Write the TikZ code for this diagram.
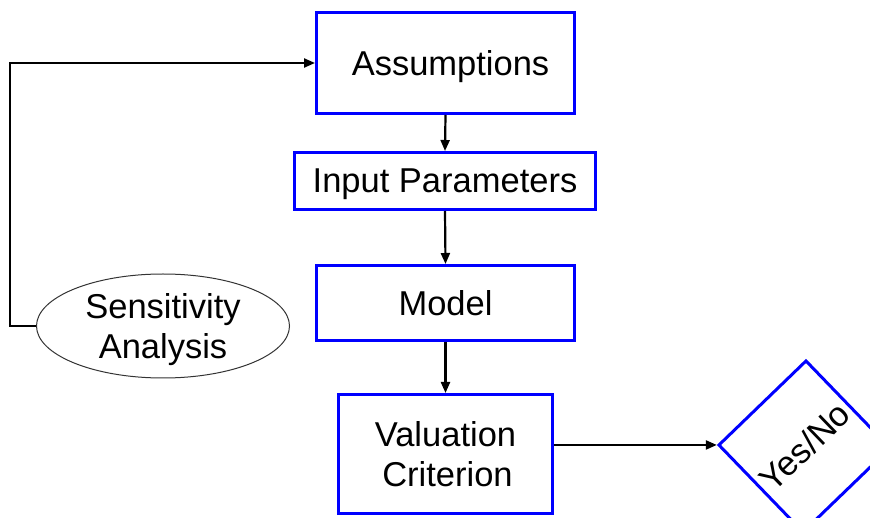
\documentclass[tikz,border=0pt]{standalone}
\usepackage{fontspec}
\setmainfont{Liberation Sans}
\usetikzlibrary{arrows.meta,shapes.geometric}
\definecolor{boxblue}{RGB}{0,0,255}
\begin{document}
\begin{tikzpicture}[x=1pt,y=-1pt,
  box/.style={draw=boxblue,line width=3pt,fill=white,inner sep=0pt,align=center,
    text depth=0pt,font=\fontsize{34.5}{40}\selectfont},
  arr/.style={draw=black,line width=2.2pt,-{Triangle[length=11pt,width=9pt]}}]
\clip (0,0) rectangle (870,518);
\fill[white] (0,0) rectangle (870,518);
\node[box,minimum width=258pt,minimum height=101pt] (as) at (445.5,63) {\hspace*{10pt}Assumptions};
\node[box,minimum width=301pt,minimum height=57pt] (ip) at (445,181) {Input Parameters};
\node[box,minimum width=258pt,minimum height=75pt] (mo) at (445.5,303) {Model};
\node[box,minimum width=214pt,minimum height=119pt] (va) at (445.5,454) {Valuation\\\hspace*{4pt}Criterion};
\node[box,minimum width=121pt,minimum height=121pt,rotate=44] (yn) at (804.5,446.5) {Yes/No};
\node[ellipse,draw=black!80,line width=1pt,inner sep=0pt,minimum width=253pt,minimum height=104pt,
  align=center,text depth=0pt,font=\fontsize{34.5}{40}\selectfont] (sa) at (163,326) {Sensitivity\\Analysis};
\draw[arr] (as.south) -- (ip.north);
\draw[arr] (ip.south) -- (mo.north);
\draw[arr] (mo.south) -- (va.north);
\draw[arr] (va.east |- yn.north west) -- (yn.north west);
\draw[arr] (sa.west) -- ++(-26,0) |- (as.west);
\end{tikzpicture}
\end{document}
